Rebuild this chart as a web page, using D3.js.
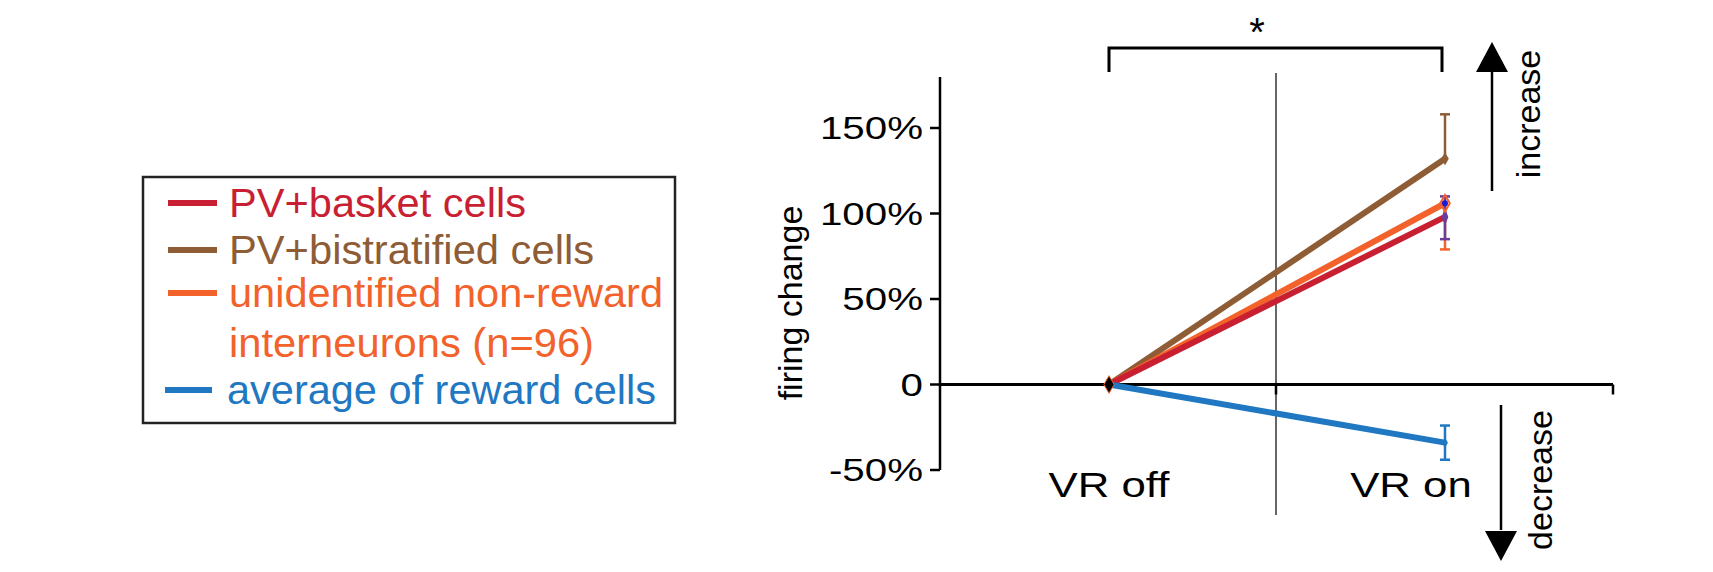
<!DOCTYPE html>
<html><head><meta charset="utf-8">
<script src="https://cdn.jsdelivr.net/npm/d3@7"></script>
<style>body{margin:0;background:#fff}svg{display:block;font-family:"Liberation Sans",Arial,sans-serif}</style>
</head><body><svg id="c" width="1713" height="572"></svg>
<script>
const conditions = ["VR off", "VR on"];
const seriesNames = ["PV+basket cells", "PV+bistratified cells", "unidentified non-reward interneurons (n=96)", "average of reward cells"];
const legendLines = [["PV+basket cells"], ["PV+bistratified cells"], ["unidentified non-reward", "interneurons (n=96)"], ["average of reward cells"]];
const colors = ["#c81f32", "#8e5c35", "#f2622a", "#1f78c1"];
const valuesOn = [98, 132, 106, -34];
const errLow = [85, 132, 79, -44];
const errHigh = [110, 158, 106, -24];
const yTicks = [-50, 0, 50, 100, 150];
const legendWidths = [297, 365, 434, 365, 429];

const svg = d3.select("#c");
const y = d3.scaleLinear().domain([-50, 150]).range([470, 128]);
const x = d3.scaleLinear().domain([0, 1]).range([1109, 1445]);
const x0 = 940;

function stretch(sel, f) { sel.each(function(){ const w=this.getComputedTextLength(); d3.select(this).attr("textLength", w*f).attr("lengthAdjust","spacingAndGlyphs"); }); }

// axes
svg.append("line").attr("x1",x0).attr("x2",x0).attr("y1",77).attr("y2",y(-50)).attr("stroke","#000").attr("stroke-width",2.5);
svg.selectAll(".yt").data(yTicks).join("line").attr("x1",x0-10).attr("x2",x0).attr("y1",d=>y(d)).attr("y2",d=>y(d)).attr("stroke","#000").attr("stroke-width",2.5);
const yl = svg.selectAll(".yl").data(yTicks).join("text").attr("x",923).attr("y",d=>y(d)+11).attr("text-anchor","end").attr("font-size",31).text(d=>d===0?"0":d+"%");
stretch(yl,1.3);
svg.append("line").attr("x1",x0).attr("x2",1613).attr("y1",y(0)).attr("y2",y(0)).attr("stroke","#000").attr("stroke-width",3);
svg.append("line").attr("x1",1613).attr("x2",1613).attr("y1",y(0)).attr("y2",y(0)+10).attr("stroke","#000").attr("stroke-width",2.5);
svg.append("line").attr("x1",1276).attr("x2",1276).attr("y1",y(0)).attr("y2",y(0)+10).attr("stroke","#000").attr("stroke-width",2.5);
svg.append("line").attr("x1",1276).attr("x2",1276).attr("y1",73).attr("y2",515).attr("stroke","#000").attr("stroke-width",1.2);
const xl = svg.selectAll(".xl").data(conditions).join("text").attr("x",(d,i)=>i?1411:1109).attr("y",497).attr("text-anchor","middle").attr("font-size",35).text(d=>d);
stretch(xl,1.25);
svg.append("text").attr("transform","translate(802,303) rotate(-90)").attr("text-anchor","middle").attr("font-size",34).text("firing change");

// series
const order = [1,2,0,3];
order.forEach(i=>{
  svg.append("line").attr("x1",x(0)).attr("y1",y(0)).attr("x2",x(1)).attr("y2",y(valuesOn[i])).attr("stroke",colors[i]).attr("stroke-width",6);
  svg.append("line").attr("x1",x(1)).attr("x2",x(1)).attr("y1",y(errLow[i])).attr("y2",y(errHigh[i])).attr("stroke",i===0?"#6a3d9a":colors[i]).attr("stroke-width",2.5);
  [errLow[i],errHigh[i]].forEach(v=>{ if(v!==valuesOn[i]) svg.append("line").attr("x1",x(1)-5).attr("x2",x(1)+5).attr("y1",y(v)).attr("y2",y(v)).attr("stroke",i===0?"#6a3d9a":colors[i]).attr("stroke-width",2.5);});
});
svg.append("path").attr("d",d3.symbol(d3.symbolDiamond,60)()).attr("transform",`translate(${x(1)},${y(valuesOn[0])}) scale(0.8,1.2)`).attr("fill","#6a3d9a");
svg.append("path").attr("d",d3.symbol(d3.symbolDiamond,80)()).attr("transform",`translate(${x(1)},${y(valuesOn[2])})`).attr("fill","none").attr("stroke",colors[2]).attr("stroke-width",2);
svg.append("circle").attr("cx",x(1)).attr("cy",y(valuesOn[2])).attr("r",3).attr("fill","#1a1adb");
svg.append("path").attr("d",d3.symbol(d3.symbolDiamond,50)()).attr("transform",`translate(${x(1)},${y(valuesOn[1])})`).attr("fill",colors[1]);
svg.append("path").attr("d",d3.symbol(d3.symbolDiamond,30)()).attr("transform",`translate(${x(1)},${y(valuesOn[3])})`).attr("fill",colors[3]);
svg.append("path").attr("d",d3.symbol(d3.symbolDiamond,90)()).attr("transform",`translate(${x(0)},${y(0)})`).attr("fill","#000").attr("stroke",colors[2]).attr("stroke-width",1);

// significance bracket
svg.append("path").attr("d",`M${x(0)},72V48H${x(1)-3}V72`).attr("fill","none").attr("stroke","#000").attr("stroke-width",3);
svg.append("text").attr("x",1257).attr("y",46).attr("text-anchor","middle").attr("font-size",40).text("*");

// arrows
svg.append("line").attr("x1",1492).attr("x2",1492).attr("y1",191).attr("y2",70).attr("stroke","#000").attr("stroke-width",2.5);
svg.append("path").attr("d","M1492,42L1508,72H1476Z").attr("fill","#000");
svg.append("text").attr("transform","translate(1540,114) rotate(-90)").attr("text-anchor","middle").attr("font-size",34).text("increase");
svg.append("line").attr("x1",1501).attr("x2",1501).attr("y1",405).attr("y2",530).attr("stroke","#000").attr("stroke-width",2.5);
svg.append("path").attr("d","M1501,561L1517,531H1485Z").attr("fill","#000");
svg.append("text").attr("transform","translate(1552,480) rotate(-90)").attr("text-anchor","middle").attr("font-size",34).text("decrease");

// legend
svg.append("rect").attr("x",143).attr("y",177).attr("width",532).attr("height",246).attr("fill","none").attr("stroke","#222").attr("stroke-width",2.5);
const rowY = [203,250,293,390];
legendLines.forEach((lines,i)=>{
  svg.append("line").attr("x1",i===3?165:168).attr("x2",i===3?212:217).attr("y1",rowY[i]).attr("y2",rowY[i]).attr("stroke",colors[i]).attr("stroke-width",6);
});
let k=0;
const textRows=[[0,203],[1,250],[2,293],[2,343],[3,390]];
legendLines.flat().forEach((t,j)=>{
  const [si,yy]=textRows[j];
  svg.append("text").attr("x",si===3?227:229).attr("y",yy+14).attr("font-size",40).attr("fill",colors[si]).attr("textLength",legendWidths[j]).attr("lengthAdjust","spacingAndGlyphs").text(t);
});
</script></body></html>
